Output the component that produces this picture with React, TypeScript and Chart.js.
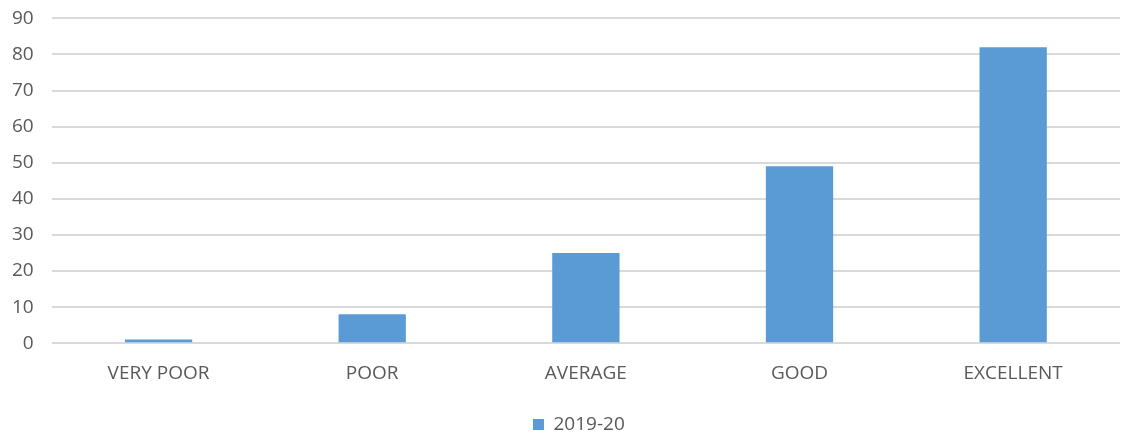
import React, { useEffect, useRef } from "react";
import { Chart, registerables } from "chart.js";

Chart.register(...registerables);

const categories = ["VERY POOR", "POOR", "AVERAGE", "GOOD", "EXCELLENT"];
const seriesLabel = "2019-20";
const values = [1, 8, 25, 49, 82];
const yMin = 0;
const yMax = 90;
const yStep = 10;

const legendShift = {
  id: "legendShift",
  afterLayout(chart: any) {
    const lg = chart.legend;
    if (lg) {
      const area = chart.chartArea;
      const plotCenter = (area.left + area.right) / 2;
      const boxCenter = (lg.left + lg.right) / 2;
      const d = plotCenter - boxCenter - 7;
      lg.left += d;
      lg.right += d;
    }
  },
};

export default function App() {
  const ref = useRef<HTMLCanvasElement | null>(null);
  useEffect(() => {
    document.body.style.margin = "0";
    const ctx = ref.current!;
    const font = { family: "'Open Sans', 'Liberation Sans', sans-serif", size: 19 };
    const chart = new Chart(ctx, {
      type: "bar",
      data: {
        labels: categories,
        datasets: [
          {
            label: seriesLabel,
            data: values,
            backgroundColor: "#5B9BD5",
            borderWidth: 0,
            categoryPercentage: 1,
            barPercentage: 0.315,
          },
        ],
      },
      options: {
        animation: false,
        responsive: false,
        maintainAspectRatio: false,
        layout: { padding: { top: 0, right: 3, left: -6, bottom: 0 } },
        plugins: {
          legend: {
            position: "bottom",
            labels: {
              boxWidth: 11,
              boxHeight: 11,
              color: "#595959",
              font,
              padding: 0,
            },
          },
          tooltip: { enabled: false },
        },
        scales: {
          x: {
            grid: { display: false, drawTicks: false },
            border: { display: false },
            ticks: { color: "#595959", font, padding: 19 },
            afterFit: (scale: any) => {
              scale.height += 11;
            },
          },
          y: {
            min: yMin,
            max: yMax,
            ticks: { stepSize: yStep, color: "#595959", font, padding: 18 },
            grid: { color: "#D9D9D9", lineWidth: 2, drawTicks: false },
            border: { display: false },
          },
        },
      },
      plugins: [legendShift],
    });
    return () => chart.destroy();
  }, []);
  return (
    <div style={{ width: 1123, height: 435, overflow: "hidden" }}>
      <canvas
        ref={ref}
        width={1123}
        height={455}
        style={{ display: "block", marginTop: -11 }}
      />
    </div>
  );
}
